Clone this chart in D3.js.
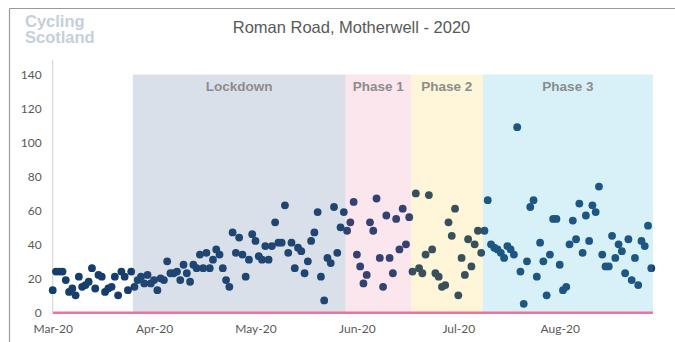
<!DOCTYPE html>
<html>
<head>
<meta charset="utf-8">
<script src="https://cdn.jsdelivr.net/npm/d3@7"></script>
<style>
  html, body { margin: 0; padding: 0; background: #ffffff; }
  svg { display: block; }
</style>
</head>
<body>
<svg id="chart" width="675" height="342"></svg>
<script>
// Daily cyclist counts, Roman Road counter, from 1 March 2020
const firstDay = "2020-03-01";
const counts = [
  13, 24, 24, 24, 19, 12, 14, 10, 21, 15, 16, 18, 26, 14, 22, 21, 12, 14, 15, 21,
  10, 24, 21, 13, 24, 15, 19, 21, 17, 22, 17, 19, 13, 20, 19, 30, 23, 23, 24, 19,
  28, 23, 18, 28, 26, 34, 26, 35, 26, 31, 37, 34, 26, 19, 15, 47, 35, 44, 34, 21,
  31, 46, 42, 33, 31, 39, 31, 39, 53, 41, 41, 63, 35, 41, 26, 38, 36, 23, 30, 42,
  47, 59, 21, 7, 32, 29, 62, 35, 50, 59, 48, 53, 65, 34, 27, 17, 22, 53, 48, 67,
  32, 15, 57, 32, 23, 55, 37, 61, 40, 56, 24, 70, 26, 23, 34, 69, 37, 23, 21, 15,
  16, 53, 45, 61, 10, 32, 22, 43, 27, 40, 48, 35, 48, 66, 40, 38, 37, 35, 32, 39,
  37, 34, 109, 24, 5, 30, 62, 66, 21, 41, 30, 10, 34, 55, 55, 28, 13, 15, 40, 54,
  43, 64, 35, 57, 42, 63, 59, 74, 34, 27, 27, 45, 32, 40, 36, 23, 43, 19, 32, 16,
  42, 39, 51, 26
];

// Axis labels
const tickDates = ["2020-03-01", "2020-04-01", "2020-05-02", "2020-06-02", "2020-07-03", "2020-08-03"];
const tickLabels = ["Mar-20", "Apr-20", "May-20", "Jun-20", "Jul-20", "Aug-20"];
const yTicks = [0, 20, 40, 60, 80, 100, 120, 140];

// Restriction phases: first day of each, and the last day shown
const phaseNames = ["Lockdown", "Phase 1", "Phase 2", "Phase 3"];
const phaseStarts = ["2020-03-26", "2020-05-30", "2020-06-19", "2020-07-11"];
const phaseLastDay = "2020-08-31";
const phaseColors = ["#46648f", "#eb588e", "#ffbc00", "#3cb9e1"];
const phaseOpacity = [0.2, 0.15, 0.15, 0.2];

const chartTitle = "Roman Road, Motherwell - 2020";
const logoLines = ["Cycling", "Scotland"];

const parse = d3.utcParse("%Y-%m-%d");
const start = parse(firstDay);
const points = counts.map((v, i) => ({ date: d3.utcDay.offset(start, i), value: v }));

const svg = d3.select("#chart");

const x = d3.scaleUtc()
  .domain([points[0].date, points[points.length - 1].date])
  .range([52.7, 651.3]);
const halfDay = (x(points[1].date) - x(points[0].date)) / 2;

const y = d3.scaleLinear().domain([0, 140]).range([312.3, 74.5]);

// Outer frame
svg.append("line").attr("x1", 9.5).attr("x2", 675).attr("y1", 8.5).attr("y2", 8.5)
  .attr("stroke", "#9a9a9a").attr("stroke-width", 1.2);
svg.append("line").attr("x1", 9.5).attr("x2", 9.5).attr("y1", 8.5).attr("y2", 342)
  .attr("stroke", "#9a9a9a").attr("stroke-width", 1.2);

// Logo
svg.append("g").selectAll("text").data(logoLines).join("text")
  .attr("x", 25).attr("y", (d, i) => 26.5 + i * 16.5)
  .attr("font-family", "Liberation Sans, Arial, sans-serif")
  .attr("font-weight", "bold").attr("font-size", 16.5)
  .attr("fill", "#c6cfda")
  .text(d => d);

// Title
svg.append("text")
  .attr("x", 351.5).attr("y", 33)
  .attr("text-anchor", "middle")
  .attr("font-family", "Liberation Sans, Arial, sans-serif")
  .attr("font-size", 16.5).attr("fill", "#595959")
  .text(chartTitle);

// Value axis line
svg.append("line").attr("x1", 52.7).attr("x2", 52.7).attr("y1", 60).attr("y2", y(0))
  .attr("stroke", "#d0d0d0").attr("stroke-width", 1);

// Daily counts
svg.append("g").selectAll("circle").data(points).join("circle")
  .attr("cx", d => x(d.date))
  .attr("cy", d => y(d.value))
  .attr("r", 3.9)
  .attr("fill", "#163e6c");

// Phase bands, tinted over the points
const phases = phaseNames.map((name, i) => ({
  name,
  from: parse(phaseStarts[i]),
  to: i < phaseNames.length - 1 ? d3.utcDay.offset(parse(phaseStarts[i + 1]), -1) : parse(phaseLastDay),
  color: phaseColors[i],
  opacity: phaseOpacity[i]
}));

const bandG = svg.append("g");
bandG.selectAll("rect").data(phases).join("rect")
  .attr("x", d => x(d.from) - halfDay)
  .attr("width", d => x(d.to) - x(d.from) + 2 * halfDay)
  .attr("y", y(140))
  .attr("height", y(0) - y(140))
  .attr("fill", d => d.color)
  .attr("fill-opacity", d => d.opacity);

bandG.selectAll("text").data(phases).join("text")
  .attr("x", d => (x(d.from) + x(d.to)) / 2)
  .attr("y", 91)
  .attr("text-anchor", "middle")
  .attr("font-family", "Liberation Sans, Arial, sans-serif")
  .attr("font-weight", "bold").attr("font-size", 13.5)
  .attr("fill", "#8c8c8c")
  .text(d => d.name);

// Category axis baseline
svg.append("line")
  .attr("x1", x(points[0].date)).attr("x2", x(points[points.length - 1].date) + halfDay)
  .attr("y1", y(0) + 0.5).attr("y2", y(0) + 0.5)
  .attr("stroke", "#ee7299").attr("stroke-width", 2.5);

// Axes labels
const xAxis = d3.axisBottom(x)
  .tickValues(tickDates.map(parse))
  .tickFormat((d, i) => tickLabels[i])
  .tickSize(0).tickPadding(12.5);
const gx = svg.append("g").attr("transform", `translate(0,${y(0)})`).call(xAxis);
gx.select(".domain").remove();

const yAxis = d3.axisLeft(y).tickValues(yTicks).tickSize(0).tickPadding(11);
const gy = svg.append("g").attr("transform", "translate(52.7,0)").call(yAxis);
gy.select(".domain").remove();

svg.selectAll(".tick text")
  .attr("font-family", "Lato, sans-serif")
  .attr("font-size", 12)
  .attr("fill", "#595959");
</script>
</body>
</html>
